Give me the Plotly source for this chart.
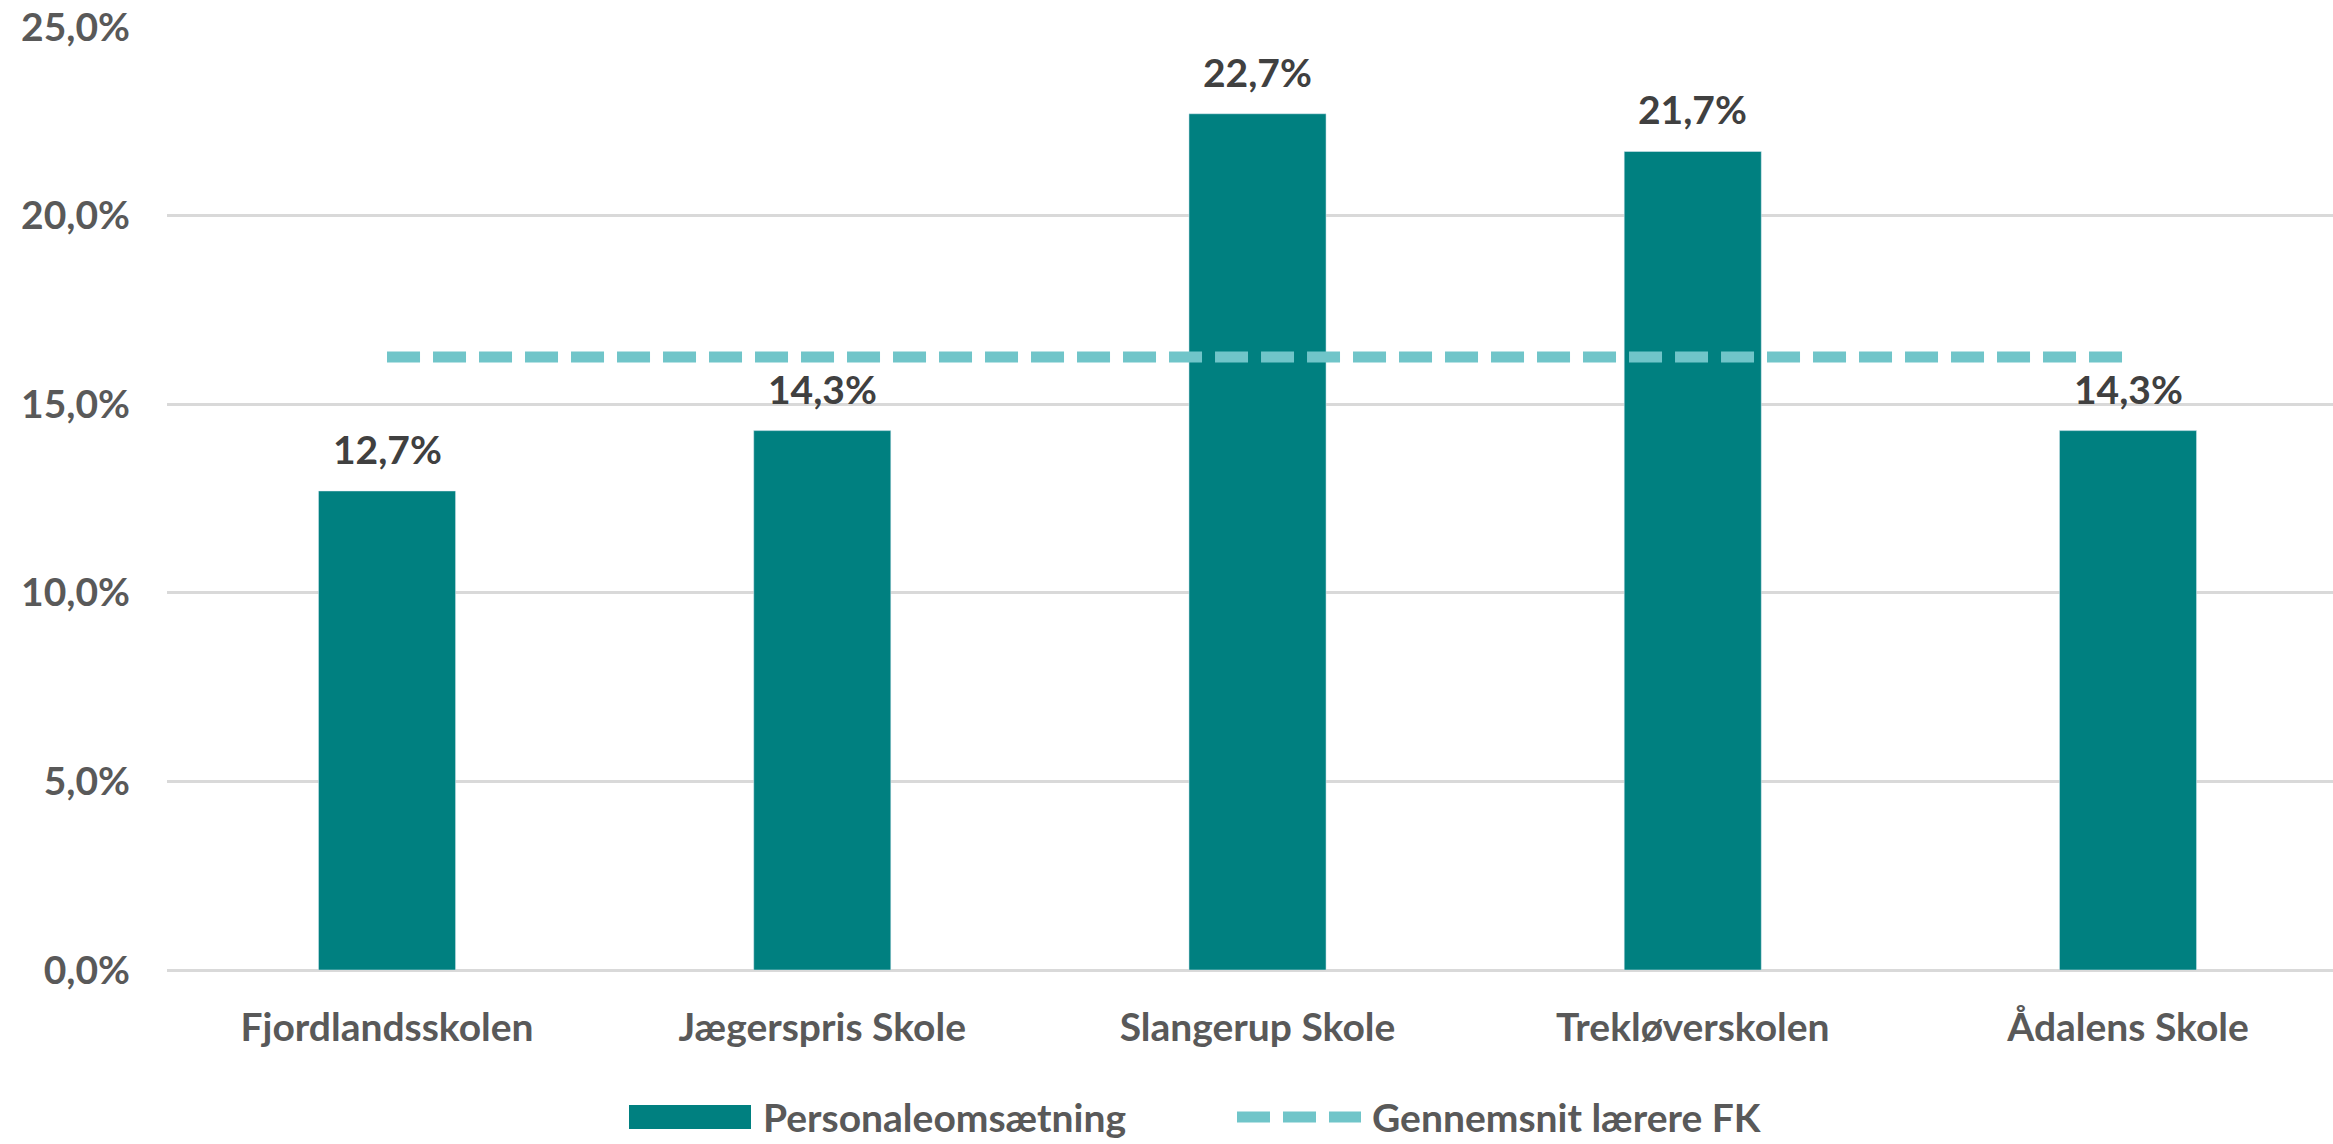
import plotly.graph_objects as go

categories = ["Fjordlandsskolen", "Jægerspris Skole", "Slangerup Skole", "Trekløverskolen", "Ådalens Skole"]
turnover = [12.7, 14.3, 22.7, 21.7, 14.3]
average = [16.25, 16.25, 16.25, 16.25, 16.25]
bar_name = "Personaleomsætning"
line_name = "Gennemsnit lærere FK"
y_ticks = [0, 5, 10, 15, 20, 25]


def pct(v):
    return f"{v:.1f}".replace(".", ",") + "%"


W, H = 2333, 1144
ML, MR, MT, MB = 167, 0, 27, 174
PW = W - ML - MR
PH = H - MT - MB


def px(x):
    return (x - ML) / PW


def py(y):
    return (H - MB - y) / PH


BAR = "#008080"
LINE = "#70C5C9"
AX = "#595959"
LBL = "#404040"
FONT = "Lato"
FS = 39

fig = go.Figure()
fig.add_trace(go.Bar(
    x=categories, y=turnover, name=bar_name, marker_color=BAR,
    showlegend=False, hoverinfo="x+y",
))
fig.add_trace(go.Scatter(
    x=categories, y=average, name=line_name, mode="lines",
    line=dict(color=LINE, width=11, dash="33px,13px"), showlegend=False,
))

for c, v in zip(categories, turnover):
    fig.add_annotation(x=c, y=v, text=pct(v), showarrow=False,
                       yanchor="middle", yshift=42,
                       font=dict(family=FONT, size=FS, color=LBL, weight="bold"))

fig.update_layout(
    width=W, height=H,
    margin=dict(l=ML, r=MR, t=MT, b=MB),
    paper_bgcolor="white", plot_bgcolor="white",
    bargap=0.685,
    font=dict(family=FONT, size=FS, color=AX, weight="bold"),
    showlegend=False,
)
fig.update_xaxes(
    showgrid=False, showline=False, ticks="",
    tickfont=dict(family=FONT, size=FS, color=AX, weight="bold"),
    ticklabelstandoff=31,
    range=[-0.5055, 4.471],
)
fig.update_yaxes(
    range=[0, 25], tickvals=y_ticks, ticktext=[pct(t) for t in y_ticks],
    showgrid=True, gridcolor="#D9D9D9", gridwidth=3,
    zeroline=True, zerolinecolor="#D9D9D9", zerolinewidth=3,
    showline=False, ticks="",
    tickfont=dict(family=FONT, size=FS, color=AX, weight="bold"),
    ticklabelstandoff=36,
)

# legend drawn manually to match wide legend symbols
LY = 1117
fig.add_shape(type="rect", xref="paper", yref="paper",
              x0=px(629), x1=px(751), y0=py(LY + 12), y1=py(LY - 12),
              fillcolor=BAR, line=dict(width=0))
fig.add_shape(type="line", xref="paper", yref="paper",
              x0=px(1237), x1=px(1361), y0=py(LY), y1=py(LY),
              line=dict(color=LINE, width=11, dash="33px,13px"))
fig.add_annotation(xref="paper", yref="paper", x=px(761), y=py(LY),
                   text=bar_name, showarrow=False, xanchor="left", yanchor="middle",
                   font=dict(family=FONT, size=FS, color=AX, weight="bold"))
fig.add_annotation(xref="paper", yref="paper", x=px(1370), y=py(LY),
                   text=line_name, showarrow=False, xanchor="left", yanchor="middle",
                   font=dict(family=FONT, size=FS, color=AX, weight="bold"))

fig.write_html("out.html", config={"displayModeBar": False},
               post_script="document.body.style.margin='0px';")
